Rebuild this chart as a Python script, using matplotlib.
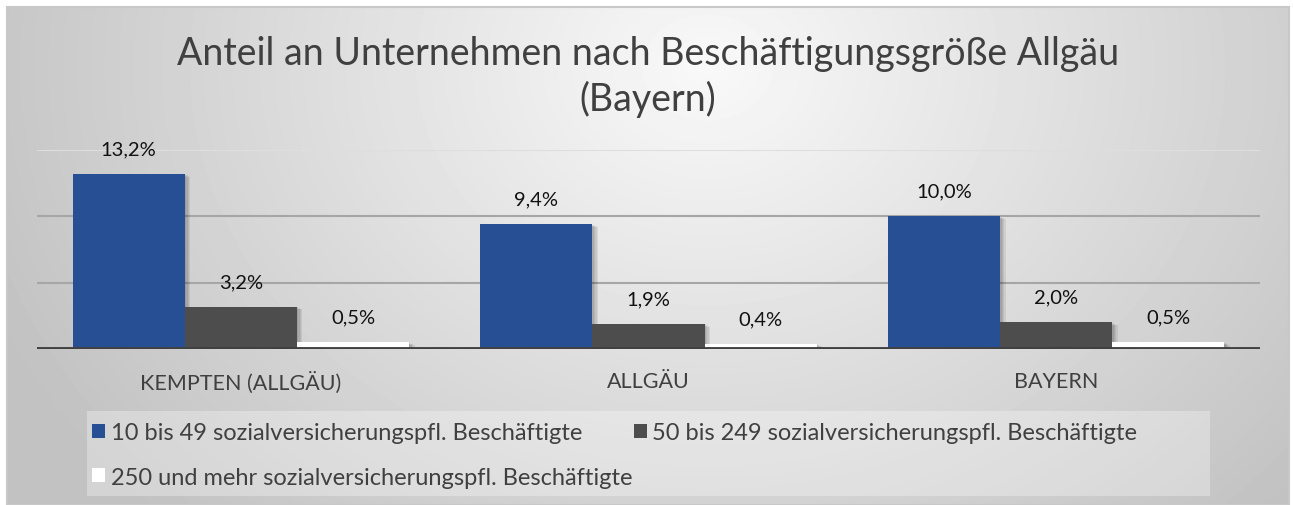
import numpy as np
import matplotlib
matplotlib.use('Agg')
import matplotlib.pyplot as plt
from matplotlib.patches import Rectangle
import matplotlib.patheffects as pe

plt.rcParams['font.family'] = ['Lato', 'DejaVu Sans']

# data
regions = ['KEMPTEN (ALLGÄU)', 'ALLGÄU', 'BAYERN']
series_names = [
    '10 bis 49 sozialversicherungspfl. Beschäftigte',
    '50 bis 249 sozialversicherungspfl. Beschäftigte',
    '250 und mehr sozialversicherungspfl. Beschäftigte',
]
small = [13.2, 9.4, 10.0]
medium = [3.2, 1.9, 2.0]
large = [0.5, 0.4, 0.5]
colors = ['#274f94', '#4d4d4d', '#ffffff']
title = 'Anteil an Unternehmen nach Beschäftigungsgröße Allgäu\n(Bayern)'

W, H = 1293, 506
fig = plt.figure(figsize=(W / 100, H / 100), dpi=100)
fig.patch.set_facecolor('white')

# chart area with radial gradient background
bg = fig.add_axes([7 / W, 0, (1289 - 7) / W, (H - 8) / H])
yy, xx = np.mgrid[0:498, 0:1282]
r = np.sqrt(((xx - 700) / 760.0) ** 2 + ((yy - 60) / 620.0) ** 2)
shade = np.clip(0.975 - 0.21 * r, 0.76, 1.0)
bg.imshow(shade, cmap='gray', vmin=0, vmax=1, aspect='auto', extent=[0, 1, 0, 1])
bg.set_xlim(0, 1)
bg.set_ylim(0, 1)
bg.axis('off')
fig.add_artist(Rectangle((7 / W, 0), (1289 - 7) / W, (H - 8) / H, transform=fig.transFigure,
                         fill=False, edgecolor='#c8c8c8', linewidth=1.5))

# legend box
fig.add_artist(Rectangle((87 / W, 1 - 497 / H), (1210 - 87) / W, (497 - 412) / H,
                         transform=fig.transFigure, facecolor='white', alpha=0.3,
                         edgecolor='none'))

ax = fig.add_axes([37 / W, 1 - 350 / H, (1260 - 37) / W, (350 - 151) / H])
ax.set_facecolor('none')

x = np.arange(len(regions))
width = 0.275
shadow = [pe.SimplePatchShadow(offset=(o, -o / 2), shadow_rgbFace='black', alpha=0.07)
          for o in (1, 2, 3, 4)] + [pe.Normal()]
handles = []
for i, (vals, col) in enumerate(zip([small, medium, large], colors)):
    bars = ax.bar(x + (i - 1) * width, vals, width, color=col, zorder=3)
    for b in bars:
        b.set_path_effects(shadow)
    handles.append(bars)
    for xi, v in zip(x + (i - 1) * width, vals):
        ax.annotate(f'{v:.1f}%'.replace('.', ','), (xi, v), xytext=(0, 12),
                    textcoords='offset points', ha='center', va='bottom',
                    fontsize=14.5, color='#111111')

ax.set_xlim(-0.5, 2.5)
ax.set_ylim(0, 15)
ax.set_yticks([5, 10])
ax.yaxis.grid(True, color='#a6a6a6', linewidth=1.5, zorder=0)
ax.axhline(15, color='#dedede', linewidth=1.5, zorder=0)
ax.axhline(0, color='#404040', linewidth=3.5, zorder=4)
ax.tick_params(left=False, bottom=False, labelleft=False)
ax.set_xticks(x)
ax.set_xticklabels(regions, fontsize=15.5, color='#404040')
ax.tick_params(axis='x', pad=12)
for s in ax.spines.values():
    s.set_visible(False)

fig.text(648 / W, 1 - 77 / H, title, ha='center', va='center', fontsize=27,
         color='#404040', linespacing=1.3)

# row-wise order: first two in row 1, third in row 2
leg = fig.legend([handles[0], handles[2], handles[1]],
                 [series_names[0], series_names[2], series_names[1]],
                 ncol=2, loc='upper left', bbox_to_anchor=(92 / W, 1 - 423 / H),
                 frameon=False, fontsize=17, labelcolor='#404040',
                 handlelength=0.55, handleheight=0.55, handletextpad=0.25,
                 columnspacing=0.05, labelspacing=1.0, borderaxespad=0,
                 borderpad=0)
for h in leg.legend_handles:
    h.set_path_effects([])

fig.savefig('out.png', dpi=100)
